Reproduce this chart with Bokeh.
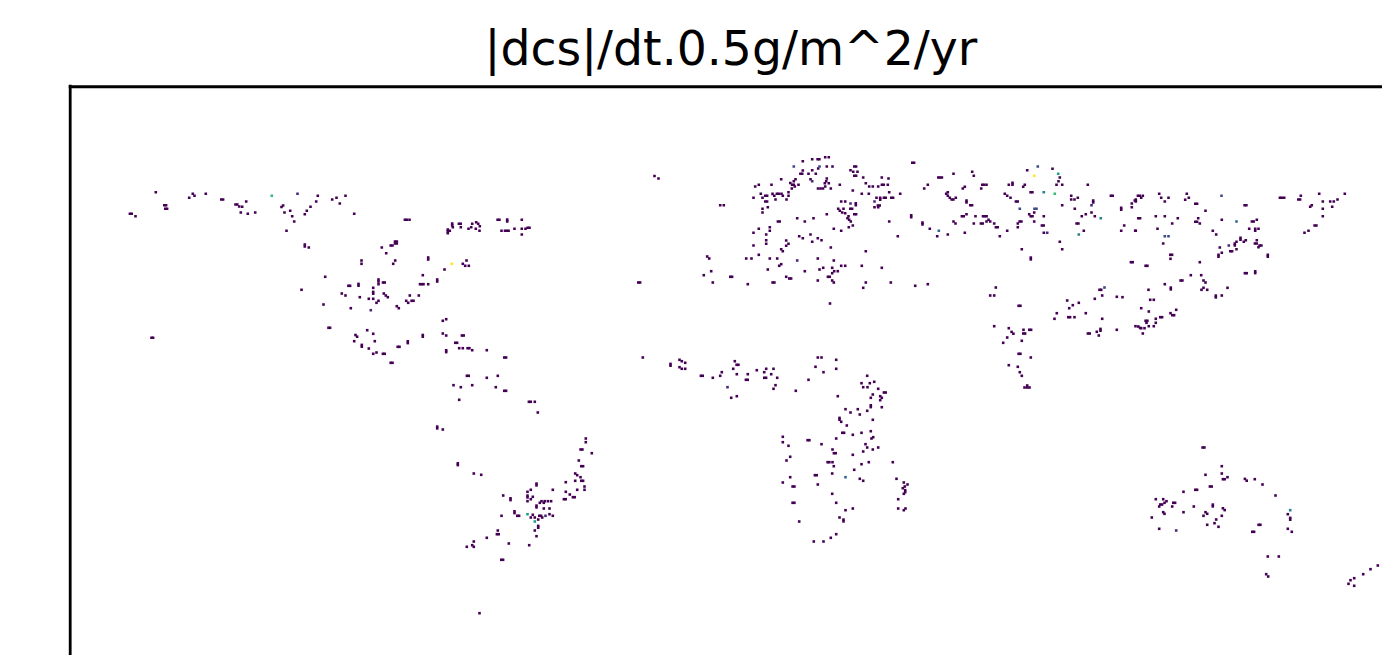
from bokeh.plotting import figure
from bokeh.models import ColumnDataSource, LinearColorMapper, Span, Title
from bokeh.embed import file_html
from bokeh.resources import INLINE

# Grid cells: column, row (image position of each non-empty cell)
north_america_top = [(155.3,191.7),(192.3,193.3),(194,195.3),(188.7,197.3),(205.3,193.3),(220.8,199),(222.6,199),(163.8,204.7),(165.6,204.7),(164.8,208.3),(166.6,208.3),(129.4,213.3),(131.2,213.3),(135,215.7),(245.7,201),(235,204),(236.8,204),(238.7,206),(241.7,206.3),(240.3,212),(247.3,213.3),(254.7,212),(317.3,195.3),(315.7,201),(310,206.3),(306.3,210.3),(304.3,213.7),(331.7,199),(336,197.3),(345,195.3),(339.3,203),(353.7,213.3),(281,206.5),(282.6,205),(284,212),(289.7,210.3),(291.7,215.7),(293.7,221),(286,230.3)]
north_america_mid = [(151,337.3),(152.6,337.3),(304.3,244),(304.3,246),(308.3,247),(381.3,247),(390.2,245),(392,245),(394.5,241),(396.3,241),(394.5,243),(396.3,243),(385.7,252.7),(361,260),(361,263.3),(394.7,260),(392.7,263.3),(427.7,257),(427.7,259),(324.7,276.3),(422.3,274.7),(378,279),(378,281),(378,283.7),(382.5,282),(384.2,282),(436.7,279),(436.7,281),(419.5,283.7),(421.3,283.7),(423,283.7),(427.7,283.7),(347.9,285.3),(349.6,285.3),(358,283.4),(358,285.2),(301,289.3),(372.7,287.3),(372.7,291.4),(372.7,293.2),(341.3,293),(345,295),(383.3,293),(385.3,295),(387.3,296.7),(359.3,296.7),(368.3,298.3),(372.7,298.3),(378,300.3),(376,302.3),(409.3,295),(418.3,295),(405.7,300.3),(407.7,302.3),(411.1,300.3),(413,300.3),(323,304),(350.3,307.7),(396.3,305.7),(398.3,307.7),(328,327.3),(329.6,327.3),(366.7,329.7),(372.7,333.3),(355,334.5),(356.6,336.2),(422.3,334.5),(422.3,336.2),(353.7,340.7),(374.3,340.7),(407.3,340.8),(407.3,342.6),(361.3,344.4),(361.3,346.2),(397.2,346.3),(399,346.3),(368.3,348),(376,352),(372.7,353.3),(382.4,353.3),(384.2,353.3),(390.2,362.3),(392,362.3)]
caribbean = [(404.4,219.3),(406.2,219.3),(409,219.3),(451.7,223.1),(451.7,224.9),(458.4,223.3),(460.2,223.3),(460.3,226.7),(452.3,226.7),(471.7,223.3),(475.7,221.7),(477.7,223.3),(479.3,225.7),(470.7,226.7),(468,228.3),(475.3,228.3),(479,230.3),(447.3,229.1),(447.3,230.9),(449.3,230.3),(447.3,232.7),(497.1,219.3),(498.9,219.3),(506.7,219.1),(506.7,220.9),(521.3,219.3),(501,230.3),(504.5,230.3),(506.3,230.3),(508.1,230.3),(514,228.3),(521.3,228.3),(525,228.3),(527.1,227.3),(529,227.3),(521.3,234),(466,260),(462.3,263.3),(464.7,265.3),(468.3,265.3),(444,269),(637.8,282),(639.6,282),(445.7,318.7),(442.3,320.3),(442.3,333),(445.7,335),(461.4,335),(463.2,335),(454.8,342.3),(456.6,342.3),(458.7,347.7),(462.3,347.7),(467.1,347.7),(468.9,347.7),(471.7,349.7),(445.7,349.8),(445.7,351.6),(486.3,349.7),(503.8,357),(505.6,357),(642.3,357),(466.4,375.3),(468.2,375.3),(486.3,377.3),(497.3,375.3),(453,384.7),(471.7,384.7),(460.3,386.7),(495.3,386.7),(503.8,390.3),(505.6,390.3),(458.7,399.3),(528.4,401.3),(530.2,401.3),(534.3,401.3),(537.3,412),(654,175.5),(658,178)]
south_america = [(436.7,426.1),(436.7,427.9),(442.3,429),(585.3,438),(585.3,441.7),(580.1,449),(581.9,449),(591.3,452.7),(578.3,460),(580.8,465.7),(582.6,465.7),(457.3,462.8),(457.3,464.6),(473.3,473),(480.7,474.3),(574.7,473),(576.7,474.7),(580,476.7),(574.7,480.3),(580.8,480.3),(582.6,480.3),(565.3,481.7),(536,483.1),(536,484.9),(584,486),(584,489.3),(576.7,489.3),(552.3,489.3),(530.3,489.3),(527,491.3),(565.3,491.3),(569.3,494),(502.7,495),(527,495.1),(527,496.9),(532.3,496.3),(572.4,496.7),(574.2,496.7),(510,497.8),(510,499.6),(530.3,498.7),(527,500.7),(563.4,498.7),(565.2,498.7),(541,500.7),(544.2,500.7),(547.4,500.7),(550.6,500.7),(539.3,502.3),(543.3,502.3),(536,505.1),(536,506.9),(543.3,508),(549,508),(514,510.8),(514,512.6),(532.3,514.3),(516.8,515.3),(518.6,515.3),(501,515.3),(549,513.7),(552.3,515.3),(538.8,515.3),(540.6,515.3),(541.7,517),(530.3,517),(534.3,517),(537.7,519),(537.7,525.4),(537.7,527.2),(534.3,530),(497.3,530),(496.4,533.7),(498.2,533.7),(536,535.7),(486.3,537.3),(473.3,541),(508.3,543),(528.7,544.7),(471.7,544.7),(466.3,546.3),(473.3,546.3),(500.8,559.3),(502.6,559.3),(479,612.7)]
europe = [(802.3,160.7),(811.7,158.7),(817.1,158.7),(818.9,158.7),(824.7,156.7),(828.3,156.7),(826.3,166),(832,166),(817.7,168),(802.3,170),(811.7,169.7),(799.9,173.3),(801.7,173.3),(808,173.3),(815.3,173.3),(853.8,166),(855.6,166),(850,169.7),(852.7,171.3),(857,171.3),(853.8,175.3),(855.6,175.3),(911.8,162.3),(913.6,162.3),(862.7,177),(881.3,177),(888,178),(780.7,178.7),(795,178.7),(793.3,180.7),(810,178.7),(826.3,178),(825.7,180.7),(828.3,182.7),(824.3,182.7),(839.3,184.3),(865.3,182.7),(868.7,186),(872.3,186),(877.7,186),(881.4,184.3),(883.2,184.3),(887.3,184.3),(927.3,184.3),(923.7,188),(758.3,184.3),(754.7,186),(771,184.3),(789.8,182.5),(791.6,184.2),(793.3,184.3),(798,184.3),(791.3,188),(794.3,186),(817.5,188),(820,188),(822.5,188),(824.7,186),(830.3,188),(852.3,190),(861.3,193.3),(868.3,193.3),(888.7,191.7),(899.7,193.3),(760.3,193.3),(764.8,195.3),(766.6,195.3),(772,193.4),(773.8,195.2),(776.4,193.3),(778.2,193.3),(781,193.3),(782.3,195.3),(788,191.7),(788,195.3),(753,197.3),(762,197.3),(775,199),(786,199),(764.8,201),(766.6,201),(876,197.3),(879.7,197.4),(879.7,199.2),(883.4,197.3),(885.2,197.3),(890.8,197.3),(892.6,197.3),(840.7,201),(844.7,201),(855.3,202.8),(855.3,204.6),(719.7,204.7),(723.3,204.7),(874,206.7),(877.4,205),(879.2,205),(877.7,206.7),(767.3,206.7),(762,208.3),(762,212),(837.7,208.3),(843,208.3),(849.8,208.3),(851.6,208.3),(839.3,210.3),(841.7,212),(844.7,212.7),(853.8,213.7),(855.6,213.7),(826.3,213.7),(910.7,214.8),(910.7,216.6),(848,215.7),(847,217.7),(848.7,219.3),(796.7,217.7),(813,217.7),(777.4,221),(779.2,221),(804.3,221),(850.3,221),(888.7,221),(922,222.1),(922,223.9),(769.3,226.7),(758.3,228.3),(769.3,230.3),(753,232.3),(833.3,228.3),(840.7,230.3),(848.3,226.7),(852.3,225),(929.3,228.3),(765.7,234),(798.7,235.7),(810,234),(802.3,237.7),(817.3,237.7),(821,239.7),(897.3,235.7),(765.7,239.7),(765.7,243.3),(785.7,240),(788,243.3),(785.7,245.3),(811.7,241.3),(753,245),(830.3,247),(780.7,248.7),(782.3,250.7),(865.3,250.7),(758.3,254.3),(706.7,256),(708.7,258),(745.7,258),(751,258),(769.3,258),(776.7,258),(817.3,258),(833.3,260),(780.7,263.7),(778.7,265.3),(840.7,265.3),(844.7,265.3),(861.3,265.3),(881.3,267.3),(822.7,267.3),(819,269),(831.7,267.3),(767.3,269),(710.7,270.7),(804.3,270.7),(833.7,270.7),(837.3,270.7),(831.7,272.7),(703.3,274.7),(729.8,276.3),(731.6,276.3),(785.7,276.3),(788.8,278),(790.6,278),(827.4,276.3),(829.2,276.3),(817.3,280),(831.7,280),(833.3,282),(712.3,282),(747.3,283.7),(772.1,282),(773.9,282),(865.3,282),(890.3,282),(914.7,285.3),(927.3,283.7),(862.7,287.3),(829.5,303)]
africa = [(670,363.4),(670,365.2),(679,359.3),(681.3,360.7),(684.7,362.3),(679,366.7),(681.3,368.3),(684.7,368.3),(700.4,375.3),(702.2,375.3),(712.3,377.3),(719.7,375.3),(721.3,371.7),(734.3,360.7),(736.1,364.3),(737.9,364.3),(732.7,368.3),(736.3,373.7),(747.3,373.7),(745.4,379.3),(747.2,379.3),(756.3,369.7),(763.7,371.7),(765.7,368.3),(773,368.3),(770.7,373.7),(763.8,377.3),(765.6,377.3),(776.7,377.3),(775,384.7),(773,388.3),(736.3,395.7),(730.7,397.3),(795.3,390.3),(808,379.3),(817.3,357),(821,357),(835.7,359.3),(835.7,368.3),(815,366.3),(823,371.7),(837.3,395.7),(866.7,375.3),(861,382.7),(869.3,382.7),(873.7,381.3),(862.7,386.7),(867,386.7),(877.7,388.3),(883.4,392),(885.2,392),(872.3,394),(870.3,397.3),(879.7,395.7),(881.3,397.3),(879.7,399.7),(870.3,404.8),(870.3,406.6),(881.3,406.7),(845,408.7),(857.3,408.7),(866.7,410.3),(850,412),(859.3,414),(839,417.4),(839,419.2),(840.7,421.3),(872.3,419.3),(846.3,425),(841.8,432.3),(843.6,432.3),(852.3,434.3),(861,432.3),(870.3,430.7),(872.7,436.7),(871,438),(835.7,438),(782.3,436.3),(782.3,441.7),(807.1,439.7),(808.9,439.7),(821,443.7),(788,445.3),(865,443.7),(866.7,447),(872.3,449),(877.7,447),(832,449),(862.7,451),(833.4,452.7),(835.2,452.7),(852.3,454.3),(789.7,456.3),(786,460),(827.1,461.7),(828.9,461.7),(832,461.7),(868.3,461.7),(892.3,461.7),(861,463.7),(833.3,465.7),(853.7,469.3),(831.7,473),(814.4,474.7),(816.2,474.7),(789.7,476.7),(859.3,478.3),(862.7,480.3),(896,478.3),(782.3,482),(817.3,484),(792.1,486),(793.9,486),(903.3,482),(907,484),(904.3,486),(902.3,487.7),(904.7,489.7),(904.7,491.7),(903.3,493.3),(831.7,493.3),(897.7,498.7),(792.1,502.3),(793.9,502.3),(835.7,502.3),(852.3,508),(845,509.7),(897.7,508),(905,508),(903.3,509.7),(839,517),(843,519.1),(843,520.9),(798.7,521),(835.7,533.7),(830.3,537.3),(813.3,541),(823,541)]
russia_west = [(953,173.3),(971.7,171.3),(973.3,175.3),(937.8,177),(939.6,177),(941.4,177),(962.3,188),(964.3,186.3),(981.8,184.3),(983.6,184.3),(986,184.3),(980.7,188),(1008.3,184.3),(1012,182.4),(1012,184.2),(1024.3,184.3),(1022.7,186.3),(1026.7,169.7),(1052,168.3),(1059.3,177),(1058,180.7),(1056,184.3),(1061.7,184.3),(1087.3,184.3),(1030.1,191.7),(1031.9,191.7),(947.3,191.7),(945.7,193.3),(947.3,195.3),(949.3,197.3),(951.1,199),(952.9,199),(955.3,197.3),(966,200.1),(966,201.9),(969.8,204.7),(971.6,204.7),(1004.3,193.3),(1006.7,195.3),(1010,197.3),(1015.4,201),(1017.2,201),(1070.7,195.3),(1070.7,199),(1074,199),(1077.3,197.3),(1110.4,195.3),(1112.2,195.3),(1092.7,200.1),(1092.7,201.9),(1061.7,204.7),(1134.3,200),(1131.3,203),(1131.3,206.7),(1074.3,208.3),(1120.7,207.4),(1120.7,209.2),(961.4,215.7),(963.2,215.7),(966,213.7),(975,215.7),(982.5,215.7),(984.3,215.7),(986.1,215.7),(1028.7,213.7),(1030.2,215.7),(1032,215.7),(1033.7,212),(1043.3,215.7),(1081.3,215.7),(1085.3,213.7),(1091,212),(1094.3,215.7),(953,221),(955,223),(988,219.3),(986,221),(989.7,221),(1019.1,221),(1020.9,221),(1017.3,223),(1033.7,221),(973.3,223),(980.4,223),(982.2,223),(993.7,223),(1076.1,223),(1077.9,223),(1041.4,225),(1043.2,225),(1123.7,225),(995.4,226.7),(997.2,226.7),(1017.3,226.7),(964.3,232.3),(947.3,234),(936.7,235.7),(1006.7,230.3),(1043.3,232.3),(999.3,235.7),(1083.3,230.3),(1120.7,230.3),(1134.7,230.3),(1059.3,241.3),(1021.3,248.7),(1061.7,248.7),(1030.3,257.1),(1030.3,258.9),(1130.4,261.7),(1132.2,261.7),(995.3,287),(1100.7,289.3),(1099,289.3),(1101.7,295)]
russia_east = [(1135.3,199.1),(1135.3,200.9),(1137.4,195.3),(1139.2,195.3),(1142.3,195.3),(1140.7,197.3),(1158.7,193.3),(1160.7,197.3),(1168,197.3),(1164.3,201),(1186.3,193.3),(1188.3,197.3),(1184.7,199.3),(1194.8,203.3),(1196.6,203.3),(1244.1,204.7),(1245.9,204.7),(1205,210.3),(1137.8,217.7),(1139.6,217.7),(1155.3,215.7),(1164.3,215.7),(1177.3,217.7),(1171.7,223),(1197.7,217.7),(1194.8,221.3),(1196.6,221.3),(1199.3,223),(1221.3,219.3),(1251.4,221),(1253.2,221),(1256.3,219.3),(1135.3,230.3),(1157,228.3),(1162.7,243),(1212.3,230.3),(1215.7,234),(1248.7,228.3),(1254.7,228.4),(1254.7,230.2),(1258,228.3),(1240,237.4),(1240,239.2),(1256.3,239.7),(1245.3,239.7),(1243.3,241.3),(1236,241.3),(1234.3,243.1),(1234.3,244.9),(1254.4,243),(1256.2,243),(1259.1,245),(1260.9,245),(1258,246.7),(1219.3,247),(1236,248.7),(1229.8,250.7),(1231.6,250.7),(1221.3,252.3),(1218,254.4),(1218,256.2),(1267.3,254.4),(1267.3,256.2),(1169.8,254.3),(1171.6,254.3),(1170,258.3),(1145.1,265.3),(1146.9,265.3),(1199.3,261.7),(1244.4,272.7),(1246.2,272.7),(1254.7,270.8),(1254.7,272.6),(1190.3,274.7),(1200.7,274.7),(1180.1,280),(1181.9,280),(1203,280),(1205,282),(1164.3,283.7),(1170.3,287.1),(1170.3,288.9),(1148,289.3),(1227,287.3),(1203,287.3),(1201,289.3),(1206.7,289.3),(1215.3,295.1),(1215.3,296.9),(1221.3,295),(1122,296.7),(1149.7,299.3),(1153.3,299.3),(1279.4,197.3),(1281.2,197.3),(1283.7,197.3),(1300.3,195.3),(1297.8,199),(1299.6,199),(1318.7,193.3),(1344.3,193.3),(1322.3,201),(1329.7,201),(1333.3,201),(1337,199),(1311.3,204.7),(1309.7,206.3),(1331.7,206.3),(1322.3,208.3),(1322.3,215.7),(1314.1,225),(1315.9,225),(1308,230.3),(1304,232.3)]
south_asia = [(989.7,295),(993.7,295),(1018.1,305.3),(1019.9,305.3),(993.7,325.7),(1008.3,327.7),(1011.1,331.4),(1012.9,333.2),(1023,329.3),(1022.8,333),(1024.6,333),(1028.8,329.3),(1030.6,329.3),(1006.7,337),(1021.3,340.3),(1002.7,342.3),(1018.1,353.3),(1019.9,353.3),(1030.3,357),(1008.3,364.7),(1017.3,366.3),(1019.3,371.7),(1021.3,375.3),(1024,387),(1026.7,385),(1026.7,387),(1029,387),(1094.3,298.3),(1116.3,296.3),(1066.7,300),(1078.3,302.3),(1072.3,304.7),(1068.7,307.7),(1056.3,312.7),(1085.3,312.7),(1054,318.3),(1067.8,316.7),(1069.6,316.7),(1074,316.7),(1101.7,318.3),(1100,328.4),(1100,330.2),(1096.3,331.3),(1087.4,333),(1089.2,333),(1098.3,335),(1116.3,329.3),(1140.7,307.7),(1148.3,311),(1175.7,309.3),(1170,312.7),(1171.8,314.7),(1173.6,314.7),(1159.8,316.7),(1161.6,316.7),(1155.3,318.3),(1155.3,322.3),(1145.1,320.3),(1146.9,320.3),(1146,322.3),(1135,325.7),(1137.8,326),(1139.6,327.4),(1140.7,327.7),(1144,327.7),(1148.3,325.7),(1153.3,325.7),(1142.3,333)]
oceania = [(1202.1,447),(1203.9,447),(1221.3,465.7),(1221.3,473),(1205,474.3),(1227,476.7),(1222.4,478.7),(1224.2,478.7),(1244.4,478.4),(1246.2,480.2),(1254.3,478.7),(1262,484),(1209.4,486),(1211.2,486),(1194.8,489.3),(1196.6,489.3),(1183,491.3),(1275,495),(1155.3,498.7),(1162.7,498.7),(1166,500.7),(1164,502.3),(1172.8,502.3),(1174.6,502.3),(1159.8,504),(1161.6,504),(1158.7,506),(1171.7,506),(1193.3,506),(1212.3,504.1),(1212.3,505.9),(1222.4,507.8),(1224.2,509.6),(1183,511.7),(1205,511.7),(1162.7,511.7),(1164,513.3),(1206.7,513.3),(1203,515.3),(1221.3,515.3),(1287.3,513.7),(1151.3,517),(1215.7,519),(1289.7,517.4),(1289.7,519.2),(1214,522.7),(1206.7,524.3),(1258.1,524.3),(1259.9,524.3),(1218,526.3),(1287.3,528.3),(1158.7,528.3),(1251.8,531.3),(1253.6,531.3),(1291.3,531.3),(1267.3,556),(1278.3,556),(1265.7,573.7),(1267.7,576),(1377.3,565),(1370,568.7),(1362.7,573.7),(1353.7,577.7),(1350,579.7),(1348,583.3),(1353.7,585.3)]
# Cells with higher values: column, row, value
bright_cells = [(271.3,195.3,0.68),(297,193.3,0.12),(370.3,309.7,0.14),(451.3,263.3,0.93),(527,513.7,0.58),(545,515.3,0.16),(534.3,521,0.52),(793.3,166,0.2),(819,166,0.22),(811.7,180.7,0.14),(874,201,0.14),(850,203,0.14),(796.7,260,0.14),(727,386.7,0.16),(845,476.7,0.35),(1037.3,166,0.2),(1057.7,173.3,0.52),(1033.7,175.3,1.0),(1043.3,191.7,0.42),(1054.3,193.3,0.68),(1091,204.7,0.18),(1019.3,208.3,0.3),(1034,208.3,0.27),(1036,208.3,0.27),(1100.3,217.7,0.48),(938.3,230.3,0.33),(1046.7,232.3,0.18),(1078.3,234,0.4),(1104,287,0.2),(1221,195.3,0.3),(1236,221,0.38),(1164.3,235.7,0.2),(1168,235.7,0.2),(1228.3,245,0.16),(1289.7,509.7,0.45),(1175.7,530,0.14)]
low_value = 0.0
title_text = "|dcs|/dt.0.5g/m^2/yr"

groups = [north_america_top, north_america_mid, caribbean, south_america, europe, africa, russia_west, russia_east, south_asia, oceania]
xs, ys, vs = [], [], []
for g in groups:
    for cx, cy in g:
        xs.append(cx); ys.append(cy); vs.append(low_value)
for cx, cy, cv in bright_cells:
    xs.append(cx); ys.append(cy); vs.append(cv)

VIRIDIS = ["#440154","#482878","#3e4989","#31688e","#26828e","#1f9e89","#35b779","#6ece58","#b5de2b","#fde725"]
mapper = LinearColorMapper(palette=VIRIDIS, low=0, high=1)

p = figure(width=1382, height=655, output_backend="svg", toolbar_location=None,
           x_range=(68, 1382), y_range=(655, 84),
           min_border_left=68, min_border_right=0, min_border_bottom=0, min_border_top=84)
p.title = Title(text=title_text, align="left", offset=416, text_font="DejaVu Sans",
                text_font_size="35.5pt", text_font_style="normal", text_color="black", standoff=17)
p.axis.visible = False
p.grid.visible = False
p.outline_line_color = None
p.background_fill_color = "white"
p.add_layout(Span(location=69.6, dimension="height", line_color="black", line_width=3))
p.add_layout(Span(location=86.2, dimension="width", line_color="black", line_width=3))
src = ColumnDataSource(dict(x=xs, y=ys, v=vs))
p.rect("x", "y", width=2.6, height=2.6, source=src, line_color=None,
       fill_color={"field": "v", "transform": mapper})
open("out.html", "w").write(file_html(p, INLINE))
